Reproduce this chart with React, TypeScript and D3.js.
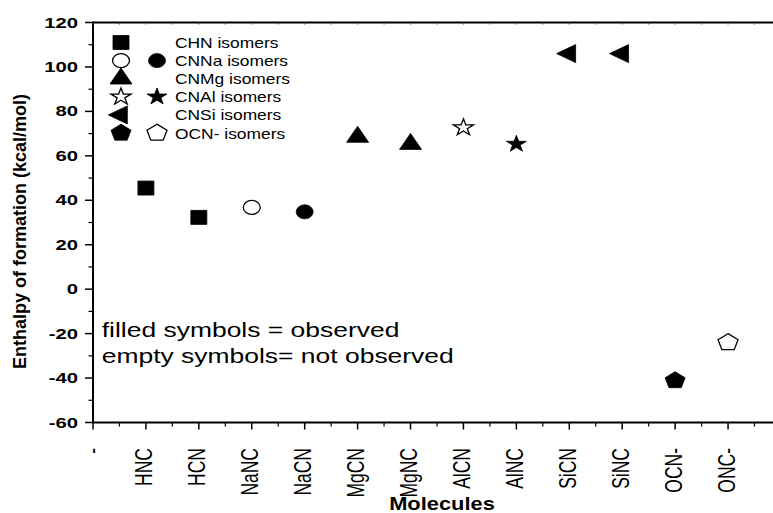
import React from "react";
import * as d3 from "d3";

const molecules = ["HNC", "HCN", "NaNC", "NaCN", "MgCN", "MgNC", "AlCN", "AlNC", "SiCN", "SiNC", "OCN-", "ONC-"];
const tickLabels = ["-", ...molecules];
const enthalpy = [45.5, 32.3, 36.8, 34.8, 68.5, 65.3, 72.7, 65.3, 106, 106, -41.1, -24];
const symbolTypes = ["square", "square", "circle", "circle", "triangle", "triangle", "star", "star", "triangleLeft", "triangleLeft", "pentagon", "pentagon"];
const observed = [true, true, false, true, true, true, false, true, true, true, true, false];
const yTicks = [-60, -40, -20, 0, 20, 40, 60, 80, 100, 120];
const yMinor = [-50, -30, -10, 10, 30, 50, 70, 90, 110];

const legendLabels = ["CHN isomers", "CNNa isomers", "CNMg isomers", "CNAl isomers", "CNSi isomers", "OCN- isomers"];
const legendSymbols = ["square", "circle", "triangle", "star", "triangleLeft", "pentagon"];
const legendFills = [[true], [false, true], [true], [false, true], [true], [true, false]];

const noteLines = ["filled symbols = observed", "empty symbols= not observed"];

const SIZES: Record<string, [number, number]> = {
  square: [16, 14],
  circle: [17, 14],
  triangle: [22, 16],
  star: [20, 16],
  triangleLeft: [19, 18],
  pentagon: [20, 16],
};

function polyPoints(n: number, inner: number | null) {
  const pts: [number, number][] = [];
  const count = inner == null ? n : n * 2;
  for (let k = 0; k < count; k++) {
    const a = (-90 + (360 / count) * k) * Math.PI / 180;
    const r = inner != null && k % 2 === 1 ? inner : 1;
    pts.push([r * Math.cos(a), r * Math.sin(a)]);
  }
  return pts;
}

function shapePath(type: string): string {
  const [w, h] = SIZES[type];
  if (type === "square") {
    return `M${-w / 2},${-h / 2}H${w / 2}V${h / 2}H${-w / 2}Z`;
  }
  if (type === "circle") {
    const rx = w / 2, ry = h / 2;
    return `M${-rx},0A${rx},${ry} 0 1 0 ${rx},0A${rx},${ry} 0 1 0 ${-rx},0Z`;
  }
  if (type === "triangle") {
    return `M0,${(-2 * h) / 3}L${w / 2},${h / 3}L${-w / 2},${h / 3}Z`;
  }
  if (type === "triangleLeft") {
    return `M${(-2 * w) / 3},0L${w / 3},${-h / 2}L${w / 3},${h / 2}Z`;
  }
  const pts = type === "star" ? polyPoints(5, 0.382) : polyPoints(5, null);
  const sx = w / (2 * 0.951);
  const sy = h / 1.809;
  return "M" + pts.map(([x, y]) => `${(x * sx).toFixed(2)},${(y * sy).toFixed(2)}`).join("L") + "Z";
}

function Marker({ type, filled, x, y }: { type: string; filled: boolean; x: number; y: number }) {
  return (
    <path
      d={shapePath(type)}
      transform={`translate(${x},${y})`}
      fill={filled ? "#000" : "#fff"}
      stroke="#000"
      strokeWidth={filled ? 0.8 : 1.3}
      strokeLinejoin="miter"
    />
  );
}

export default function App() {
  const width = 773;
  const height = 513;
  const left = 93;
  const top = 22.5;
  const bottom = 422.5;
  const font = "'Liberation Sans', Arial, sans-serif";

  const x = d3.scaleLinear().domain([0, 13]).range([left, left + 13 * 52.92]);
  const y = d3.scaleLinear().domain([-60, 120]).range([bottom, top]);

  const xMajor = d3.range(0, 14);
  const xMinorT = d3.range(0.5, 13, 1);

  const legendY0 = 42.5;
  const legendStep = 18.1;

  return (
    <svg
      width={width}
      height={height}
      style={{ position: "absolute", left: 0, top: 0, background: "#fff" }}
      fontFamily={font}
    >
      <rect width={width} height={height} fill="#fff" />

      {/* axes lines */}
      <line x1={left} x2={width} y1={top} y2={top} stroke="#000" strokeWidth={2} />
      <line x1={left} x2={width} y1={bottom} y2={bottom} stroke="#000" strokeWidth={2} />
      <line x1={left} x2={left} y1={top - 1} y2={bottom + 1} stroke="#000" strokeWidth={2} />

      {/* top ticks */}
      {[...xMajor, ...xMinorT].map((v, i) => (
        <line key={"tt" + i} x1={x(v)} x2={x(v)} y1={top} y2={top + 2} stroke="#444" strokeWidth={1} />
      ))}

      {/* bottom ticks */}
      {xMajor.map((v) => (
        <line key={"bt" + v} x1={x(v)} x2={x(v)} y1={bottom} y2={bottom + 7} stroke="#000" strokeWidth={1.5} />
      ))}
      {xMinorT.map((v) => (
        <line key={"bm" + v} x1={x(v)} x2={x(v)} y1={bottom} y2={bottom + 4} stroke="#000" strokeWidth={1.2} />
      ))}

      {/* y ticks */}
      {yTicks.map((v) => (
        <line key={"yt" + v} x1={left - 8} x2={left} y1={y(v)} y2={y(v)} stroke="#000" strokeWidth={1.5} />
      ))}
      {yMinor.map((v) => (
        <line key={"ym" + v} x1={left - 4.5} x2={left} y1={y(v)} y2={y(v)} stroke="#000" strokeWidth={1.2} />
      ))}
      {yTicks.map((v) => (
        <text
          key={"yl" + v}
          transform={`translate(78,${y(v) + 5}) scale(1.45,1)`}
          textAnchor="end"
          fontSize={14}
          fontWeight="bold"
        >
          {v}
        </text>
      ))}

      {/* x labels */}
      {tickLabels.map((lab, i) => (
        <text
          key={"xl" + i}
          transform={`translate(${x(i) + 6.5},448) scale(1.33,1) rotate(-90)`}
          textAnchor="end"
          fontSize={17.5}
        >
          {lab}
        </text>
      ))}

      {/* axis titles */}
      <text
        transform={`translate(442,509.5) scale(1.25,1)`}
        textAnchor="middle"
        fontSize={17.5}
        fontWeight="bold"
      >
        Molecules
      </text>
      <text
        transform={`translate(26,231.5) rotate(-90)`}
        textAnchor="middle"
        fontSize={18}
        fontWeight="bold"
      >
        Enthalpy of formation (kcal/mol)
      </text>

      {/* data markers */}
      {molecules.map((m, i) => (
        <Marker key={m} type={symbolTypes[i]} filled={observed[i]} x={x(i + 1)} y={y(enthalpy[i])} />
      ))}

      {/* legend */}
      {legendLabels.map((lab, i) => {
        const ly = legendY0 + i * legendStep;
        return (
          <g key={lab}>
            {legendFills[i].map((f, j) => (
              <Marker key={j} type={legendSymbols[i]} filled={f} x={121 + j * 36} y={ly} />
            ))}
            <text transform={`translate(175,${ly + 5.5}) scale(1.16,1)`} fontSize={15}>
              {lab}
            </text>
          </g>
        );
      })}

      {/* note */}
      {noteLines.map((t, i) => (
        <text key={t} transform={`translate(101.7,${336.7 + i * 26}) scale(1.26,1)`} fontSize={21}>
          {t}
        </text>
      ))}
    </svg>
  );
}
